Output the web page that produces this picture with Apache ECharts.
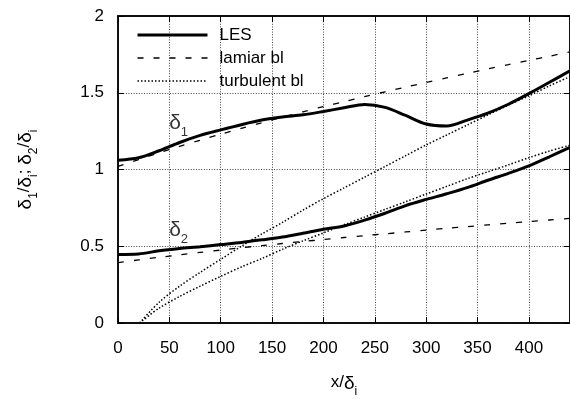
<!DOCTYPE html>
<html>
<head>
<meta charset="utf-8">
<script src="https://cdn.jsdelivr.net/npm/echarts@6/dist/echarts.min.js"></script>
<style>
  html, body { margin: 0; padding: 0; background: #fff; }
  #chart { width: 570px; height: 403px; }
</style>
</head>
<body>
<div id="chart"></div>
<script>
// Streamwise stations x/δi for the LES and laminar curves
const xs = [0, 20, 40, 60, 80, 100, 120, 140, 160, 180, 200, 220, 240, 260, 280, 300, 320, 340, 360, 380, 400, 420, 440];
// LES displacement thickness δ1/δi
const lesD1 = [1.06, 1.076, 1.122, 1.176, 1.222, 1.258, 1.292, 1.322, 1.342, 1.356, 1.378, 1.402, 1.424, 1.405, 1.352, 1.296, 1.283, 1.322, 1.367, 1.425, 1.494, 1.568, 1.643];
// LES momentum thickness δ2/δi
const lesD2 = [0.447, 0.45, 0.47, 0.485, 0.497, 0.511, 0.525, 0.542, 0.56, 0.585, 0.611, 0.632, 0.67, 0.715, 0.765, 0.805, 0.842, 0.882, 0.93, 0.975, 1.024, 1.083, 1.145];
// Laminar boundary-layer estimates
const lamD1 = [1.02, 1.065, 1.109, 1.151, 1.191, 1.23, 1.268, 1.305, 1.341, 1.376, 1.41, 1.442, 1.475, 1.506, 1.537, 1.567, 1.597, 1.626, 1.655, 1.683, 1.711, 1.738, 1.767];
const lamD2 = [0.394, 0.411, 0.428, 0.444, 0.46, 0.475, 0.49, 0.504, 0.518, 0.531, 0.544, 0.557, 0.569, 0.581, 0.593, 0.605, 0.617, 0.628, 0.639, 0.65, 0.661, 0.671, 0.682];
// Turbulent boundary-layer estimates, starting from the virtual origin
const turbXs = [21, 40, 60, 80, 100, 120, 140, 160, 180, 200, 220, 240, 260, 280, 300, 320, 340, 360, 380, 400, 420, 440];
const turbD1 = [0, 0.135, 0.24, 0.33, 0.415, 0.5, 0.58, 0.655, 0.735, 0.81, 0.88, 0.95, 1.02, 1.09, 1.16, 1.225, 1.29, 1.355, 1.42, 1.48, 1.545, 1.605];
const turbD2 = [0, 0.097, 0.173, 0.24, 0.304, 0.365, 0.42, 0.48, 0.535, 0.587, 0.64, 0.69, 0.74, 0.79, 0.84, 0.89, 0.94, 0.985, 1.03, 1.077, 1.12, 1.158];
// Curve annotations: [x, y, subscript]
const curveLabels = [[59, 1.30, '1'], [59, 0.60, '2']];
// Axis ranges and tick spacing
const xRange = [0, 440], xStep = 50;
const yRange = [0, 2], yStep = 0.5;

const FONT = 'Liberation Sans, Arial, Helvetica, sans-serif';
const pairs = (x, y) => x.map((v, i) => [v, y[i]]);
const base = { fontFamily: FONT, color: '#000', verticalAlign: 'top' };
// axis-title rich text: n = normal, g = greek, s = subscript
const axisRich = {
  n: Object.assign({ fontSize: 17, lineHeight: 20 }, base),
  g: Object.assign({ fontSize: 19, lineHeight: 20 }, base),
  s: Object.assign({ fontSize: 12, lineHeight: 12, padding: [12, 0, 0, 0] }, base)
};
// curve annotation rich text
const markRich = {
  g: Object.assign({ fontSize: 21, lineHeight: 22 }, base),
  s: Object.assign({ fontSize: 13, lineHeight: 13, padding: [13, 0, 0, 0] }, base)
};

const splitStyle = { show: true, lineStyle: { color: '#444', width: 1, type: [1, 1.6] } };
const tickStyle = { show: true, inside: true, length: 6, lineStyle: { color: '#000', width: 1 } };
const lineAxis = { show: true, onZero: false, lineStyle: { color: '#000', width: 1.5 } };

const solid = { color: '#000', width: 3, type: 'solid' };
const dashed = { color: '#000', width: 1.3, type: [6, 10] };
const dotted = { color: '#000', width: 1.5, type: [1.5, 2] };

const lineSeries = (name, data, style, z) => ({
  name, type: 'line', data, showSymbol: false, symbol: 'none', smooth: 0.3,
  lineStyle: style, itemStyle: { color: '#000' }, z, silent: true, clip: true
});

const tickLabel = { fontSize: 17, fontFamily: FONT, color: '#000' };

const option = {
  animation: false,
  backgroundColor: '#fff',
  grid: { left: 118, right: 0, top: 16, bottom: 75, show: true, borderColor: '#000', borderWidth: 1.5 },
  legend: {
    orient: 'vertical', left: 131, top: 21,
    itemWidth: 70, itemHeight: 12, itemGap: 5,
    data: ['LES', 'lamiar bl', 'turbulent bl'],
    itemStyle: { opacity: 0 },
    lineStyle: { width: 'inherit', type: 'inherit', color: 'inherit' },
    textStyle: { fontSize: 17, fontFamily: FONT, color: '#000', lineHeight: 18, padding: [0, 0, 0, 7] },
    selectedMode: false
  },
  xAxis: [{
    type: 'value', min: xRange[0], max: xRange[1], interval: xStep,
    name: '{n|x/}{g|δ}{s|i}', nameLocation: 'middle', nameGap: 51,
    nameTextStyle: { rich: axisRich },
    axisLine: lineAxis, axisTick: tickStyle, splitLine: splitStyle,
    axisLabel: Object.assign({ margin: 17, showMaxLabel: false }, tickLabel)
  }, {
    type: 'value', position: 'top', min: xRange[0], max: xRange[1], interval: xStep,
    axisLine: lineAxis, axisTick: tickStyle, splitLine: { show: false }, axisLabel: { show: false }
  }],
  yAxis: [{
    type: 'value', min: yRange[0], max: yRange[1], interval: yStep,
    name: '{g|δ}{s|1}{n|/}{g|δ}{s|i}{n|; }{g|δ}{s|2}{n|/}{g|δ}{s|i}', nameLocation: 'middle', nameGap: 82, nameRotate: 90,
    nameTextStyle: { rich: axisRich },
    axisLine: lineAxis, axisTick: tickStyle, splitLine: splitStyle,
    axisLabel: Object.assign({ margin: 14 }, tickLabel)
  }, {
    type: 'value', position: 'right', min: yRange[0], max: yRange[1], interval: yStep,
    axisLine: lineAxis, axisTick: tickStyle, splitLine: { show: false }, axisLabel: { show: false }
  }],
  series: [
    lineSeries('lamiar bl', pairs(xs, lamD1), dashed, 3),
    lineSeries('lamiar bl', pairs(xs, lamD2), dashed, 3),
    lineSeries('turbulent bl', pairs(turbXs, turbD1), dotted, 3),
    lineSeries('turbulent bl', pairs(turbXs, turbD2), dotted, 3),
    lineSeries('LES', pairs(xs, lesD1), solid, 5),
    lineSeries('LES', pairs(xs, lesD2), solid, 5),
    {
      type: 'scatter', symbolSize: 0, silent: true, z: 6,
      data: curveLabels.map(d => ({ value: [d[0], d[1]], sub: d[2] })),
      label: {
        show: true, position: 'inside',
        formatter: p => '{g|δ}{s|' + p.data.sub + '}',
        rich: markRich
      }
    }
  ]
};

echarts.init(document.getElementById('chart'), null, { renderer: 'canvas' }).setOption(option);
</script>
</body>
</html>
